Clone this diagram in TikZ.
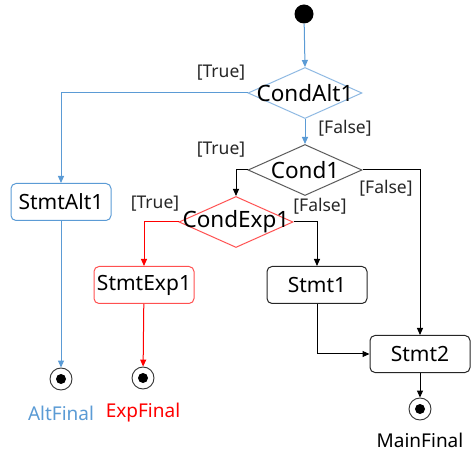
\documentclass[tikz,border=0pt]{standalone}
\usepackage{fontspec}
\setmainfont{Noto Sans}
\usetikzlibrary{shapes.geometric,arrows.meta}
\definecolor{altblue}{HTML}{5B9BD5}
\definecolor{altedge}{HTML}{8DB8E2}
\definecolor{expred}{HTML}{FF0000}
\definecolor{expedge}{HTML}{FF5050}
\definecolor{maingray}{HTML}{595959}
\tikzset{
  stmt/.style={draw, rounded corners=5pt, minimum width=100pt, minimum height=37pt,
    inner sep=0pt, line width=1pt, font=\fontsize{21}{25}\selectfont},
  decision/.style={draw, diamond, inner sep=0pt, minimum width=114pt, minimum height=51pt,
    line width=1pt, label={[font=\fontsize{22.5}{27}\selectfont]center:#1}},
  startnode/.style={circle, fill=black, minimum size=19pt, inner sep=0pt},
  finalnode/.style={draw=black!80, circle, minimum size=22pt, inner sep=0pt, line width=0.9pt,
    path picture={\fill[black] (path picture bounding box.center) circle (5pt);}},
  finallabel/.style={font=\fontsize{19}{23}\selectfont},
  guard/.style={font=\fontsize{17.5}{21}\selectfont, text=black!85},
  flow/.style={-{Triangle[length=7pt,width=6pt]}, line width=1pt}
}
\begin{document}
\begin{tikzpicture}[x=1pt,y=-1pt]
  \useasboundingbox (0,0) rectangle (474,454);
  % nodes
  \node[startnode] (start) at (304,14) {};
  \node[decision=CondAlt1, draw=altedge] (condalt) at (305,93) {};
  \node[decision=Cond1, draw=maingray] (cond) at (305,170) {};
  \node[decision=CondExp1, draw=expedge] (condexp) at (236,222) {};
  \node[stmt, draw=altblue] (stmtalt) at (61,202) {StmtAlt1};
  \node[stmt, draw=expedge] (stmtexp) at (144,285) {StmtExp1};
  \node[stmt, draw=black!85] (stmt1) at (317,285) {Stmt1};
  \node[stmt, draw=black!85] (stmt2) at (420,354) {Stmt2};
  \node[finalnode] (altfinal) at (61,379) {};
  \node[finalnode] (expfinal) at (143,378) {};
  \node[finalnode] (mainfinal) at (420,409) {};
  \node[finallabel, text=altblue] (altname) at (61,413) {AltFinal};
  \node[finallabel, text=expred] (expname) at (143,413) {ExpFinal};
  \node[finallabel] (mainname) at (420,440) {MainFinal};
  % guards
  \node[guard] (g1) at (221,73) {[True]};
  \node[guard] (g2) at (345,128) {[False]};
  \node[guard] (g3) at (221,150) {[True]};
  \node[guard] (g4) at (386,188) {[False]};
  \node[guard] (g5) at (320,206) {[False]};
  \node[guard] (g6) at (155,204) {[True]};
  % edges
  \begin{scope}[flow, altblue]
    \draw (start) to (condalt.north);
    \draw (condalt.west) -| (stmtalt);
    \draw (condalt.south) to (cond.north);
    \draw (stmtalt) to (altfinal);
  \end{scope}
  \begin{scope}[flow, expred]
    \draw (condexp.west) -| (stmtexp);
    \draw (stmtexp) to (expfinal);
  \end{scope}
  \begin{scope}[flow, black]
    \draw (cond.west) -| (condexp.north);
    \draw (cond.east) -| (stmt2);
    \draw (condexp.east) -| (stmt1);
    \draw (stmt1) |- (stmt2);
    \draw (stmt2) to (mainfinal);
  \end{scope}
\end{tikzpicture}
\end{document}
